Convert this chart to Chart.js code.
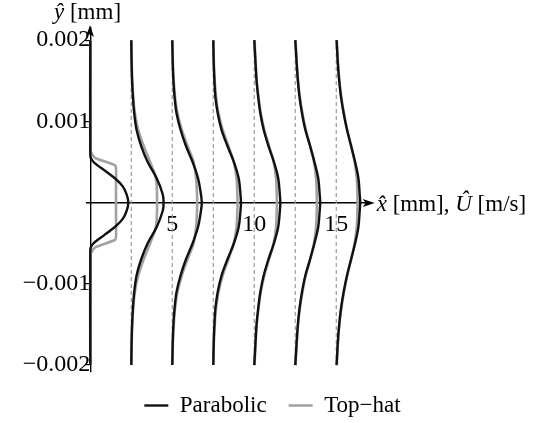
<!DOCTYPE html>
<html>
<head>
<meta charset="utf-8">
<script src="https://cdn.jsdelivr.net/npm/chart.js@4/dist/chart.umd.min.js"></script>
<style>
  html, body { margin: 0; padding: 0; background: #fff; }
  canvas { display: block; }
</style>
</head>
<body>
<canvas id="c" width="545" height="423"></canvas>
<script>
// ---- data ----
const stations = [0, 2.5, 5, 7.5, 10, 12.5, 15];          // x̂ positions of the profiles [mm]
const dashedStations = [2.5, 5, 7.5, 10, 12.5, 15];
const profileExtent = [-0.002, 0.002];                    // ŷ extent of the profiles [mm]

// inlet profile (x̂ = 0), upper half, ŷ >= 0
const yInletParabolic = [0, 0.0001, 0.0002, 0.0003, 0.0004, 0.00045, 0.0005, 0.00055, 0.0006, 0.002];
const uInletParabolic = [2.32, 2.22, 1.98, 1.5, 0.85, 0.5, 0.2, 0.03, 0, 0];
const yInletTopHat    = [0, 0.0002, 0.00042, 0.00046, 0.00055, 0.0006, 0.00065, 0.002];
const uInletTopHat    = [1.57, 1.57, 1.57, 1.5, 0.3, 0.1, 0, 0];

// downstream profiles, upper half, sampled at yHalf
const yHalf = [0, 0.0001, 0.0003, 0.0005, 0.0007, 0.0009, 0.0011, 0.0013, 0.0015, 0.0017, 0.002];
const parabolic_2_5  = [1.97, 1.92, 1.55, 1.00, 0.60, 0.32, 0.18, 0.10, 0.05, 0.02, 0];
const parabolic_5    = [1.80, 1.75, 1.57, 1.24, 0.83, 0.50, 0.26, 0.14, 0.07, 0.03, 0];
const parabolic_7_5  = [1.69, 1.66, 1.55, 1.26, 0.86, 0.50, 0.27, 0.13, 0.07, 0.03, 0];
const parabolic_10   = [1.59, 1.56, 1.46, 1.20, 0.86, 0.57, 0.37, 0.24, 0.14, 0.08, 0];
const parabolic_12_5 = [1.52, 1.49, 1.40, 1.17, 0.90, 0.61, 0.41, 0.26, 0.16, 0.09, 0];
const parabolic_15   = [1.46, 1.43, 1.35, 1.15, 0.90, 0.65, 0.45, 0.29, 0.18, 0.10, 0.02];
const tophat_2_5  = [1.57, 1.57, 1.50, 1.15, 0.75, 0.42, 0.22, 0.12, 0.06, 0.03, 0.01];
const tophat_5    = [1.52, 1.51, 1.45, 1.30, 0.93, 0.58, 0.32, 0.17, 0.09, 0.04, 0.01];
const tophat_7_5  = [1.48, 1.47, 1.42, 1.25, 0.92, 0.57, 0.32, 0.17, 0.09, 0.04, 0.01];
const tophat_10   = [1.38, 1.37, 1.33, 1.18, 0.90, 0.61, 0.40, 0.26, 0.15, 0.09, 0.02];
const tophat_12_5 = [1.32, 1.31, 1.27, 1.14, 0.91, 0.64, 0.44, 0.28, 0.17, 0.10, 0.02];
const tophat_15   = [1.30, 1.29, 1.25, 1.12, 0.91, 0.67, 0.47, 0.31, 0.19, 0.11, 0.03];

const xTickValues = [5, 10, 15];
const yTickValues = [-0.002, -0.001, 0.001, 0.002];
const yTickLabels = ['\u22120.002', '\u22120.001', '0.001', '0.002'];
const seriesNames = ['Parabolic', 'Top\u2212hat'];

// ---- build symmetric profiles ----
function profile(x0, ys, us) {
  const pts = [];
  for (let i = ys.length - 1; i >= 0; i--) pts.push({x: x0 + us[i], y: ys[i]});
  for (let i = 1; i < ys.length; i++) pts.push({x: x0 + us[i], y: -ys[i]});
  return pts;
}
const parabolicSets = [
  profile(stations[0], yInletParabolic, uInletParabolic),
  profile(stations[1], yHalf, parabolic_2_5),
  profile(stations[2], yHalf, parabolic_5),
  profile(stations[3], yHalf, parabolic_7_5),
  profile(stations[4], yHalf, parabolic_10),
  profile(stations[5], yHalf, parabolic_12_5),
  profile(stations[6], yHalf, parabolic_15)
];
const tophatSets = [
  profile(stations[0], yInletTopHat, uInletTopHat),
  profile(stations[1], yHalf, tophat_2_5),
  profile(stations[2], yHalf, tophat_5),
  profile(stations[3], yHalf, tophat_7_5),
  profile(stations[4], yHalf, tophat_10),
  profile(stations[5], yHalf, tophat_12_5),
  profile(stations[6], yHalf, tophat_15)
];

const BLACK = '#111111';
const GRAY = '#a2a2a2';
const datasets = [];
for (let i = 0; i < stations.length; i++) {
  datasets.push({
    label: seriesNames[0], data: parabolicSets[i], showLine: true,
    borderColor: BLACK, backgroundColor: BLACK, borderWidth: 2.4,
    pointRadius: 0, tension: i === 0 ? 0.2 : 0.35, order: 1
  });
  datasets.push({
    label: seriesNames[1], data: tophatSets[i], showLine: true,
    borderColor: GRAY, backgroundColor: GRAY, borderWidth: 2.6,
    pointRadius: 0, tension: i === 0 ? 0.2 : 0.35, order: 2
  });
}
dashedStations.forEach(s => {
  datasets.push({
    label: '', data: [{x: s, y: profileExtent[0]}, {x: s, y: profileExtent[1]}],
    showLine: true, borderColor: '#9a9a9a', borderWidth: 1.2, borderDash: [4, 3],
    pointRadius: 0, order: 3
  });
});

// ---- axis arrows and axis titles ----
const axisDecor = {
  id: 'axisDecor',
  afterDraw(chart) {
    const {ctx, chartArea, scales: {x, y}} = chart;
    const x0 = Math.round(x.getPixelForValue(0));
    const y0 = Math.round(y.getPixelForValue(0));
    ctx.save();
    ctx.fillStyle = '#000';
    const tt = chartArea.top - 3;
    ctx.beginPath();
    ctx.moveTo(x0, tt); ctx.lineTo(x0 - 4, tt + 12); ctx.lineTo(x0, tt + 9); ctx.lineTo(x0 + 4, tt + 12);
    ctx.closePath(); ctx.fill();
    const tr = chartArea.right + 4;
    ctx.beginPath();
    ctx.moveTo(tr, y0); ctx.lineTo(tr - 12, y0 - 4); ctx.lineTo(tr - 9, y0); ctx.lineTo(tr - 12, y0 + 4);
    ctx.closePath(); ctx.fill();

    const fam = '"Liberation Serif", "Times New Roman", serif';
    function segs(list, sx, sy) {
      ctx.textBaseline = 'alphabetic';
      let cx = sx;
      list.forEach(([t, it]) => {
        ctx.font = (it ? 'italic ' : '') + '23px ' + fam;
        ctx.fillText(t, cx, sy);
        cx += ctx.measureText(t).width;
      });
    }
    segs([['\u0177', true], [' [mm]', false]], x0 - 36, chartArea.top - 9);
    segs([['x\u0302', true], [' [mm], ', false], ['\u00DB', true], [' [m/s]', false]],
         chartArea.right + 6, y0 + 8);
    ctx.restore();
  }
};

Chart.defaults.font.family = '"Liberation Serif", "Times New Roman", serif';
Chart.defaults.font.size = 23;
Chart.defaults.color = '#000';

const spacer = w => ({
  type: 'linear', display: true,
  ticks: { display: false }, grid: { display: false, drawTicks: false }, border: { display: false },
  afterFit: s => { s.width = w; }
});

new Chart(document.getElementById('c'), {
  type: 'scatter',
  data: { datasets },
  options: {
    responsive: false,
    animation: false,
    events: [],
    layout: { padding: { left: 0, right: 0, top: 28, bottom: -4 } },
    scales: {
      x: {
        type: 'linear', min: -0.2, max: 17.1, position: { y: 0 },
        afterBuildTicks: s => { s.ticks = xTickValues.map(v => ({ value: v })); },
        ticks: { padding: 4, autoSkip: false, maxRotation: 0, font: { size: 24 }, callback: v => String(v) },
        grid: { display: false, drawTicks: true, tickLength: 4 },
        border: { color: '#000', width: 1.4 }
      },
      y: {
        type: 'linear', min: -0.002085, max: 0.00215, position: { x: 0 },
        afterBuildTicks: s => { s.ticks = yTickValues.map(v => ({ value: v })); },
        ticks: { padding: 2, autoSkip: false, font: { size: 24 }, callback: (v, i) => yTickLabels[i] },
        grid: { drawOnChartArea: false, drawTicks: true, tickLength: 5, color: '#000', lineWidth: 1.2 },
        border: { color: '#000', width: 1.4 }
      },
      padL: Object.assign(spacer(87), { position: 'left' }),
      padR: Object.assign(spacer(174.3), { position: 'right' })
    },
    plugins: {
      legend: {
        position: 'bottom',
        labels: {
          usePointStyle: true, pointStyle: 'line', pointStyleWidth: 24, padding: 22,
          filter: item => item.datasetIndex < 2
        }
      },
      tooltip: { enabled: false }
    }
  },
  plugins: [axisDecor]
});
</script>
</body>
</html>
